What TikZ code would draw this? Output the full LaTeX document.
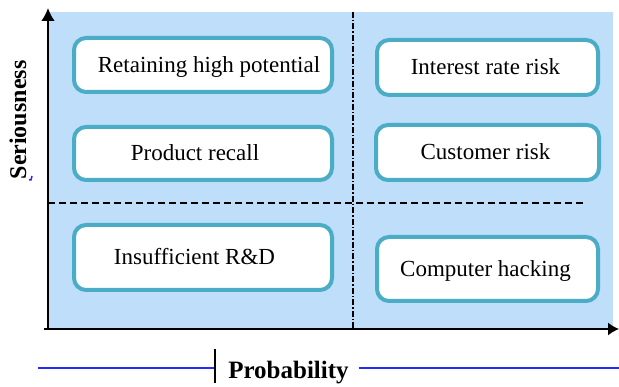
\documentclass[tikz,border=0pt]{standalone}
\usepackage{fontspec}
\setmainfont{Liberation Serif}
\usetikzlibrary{positioning, arrows.meta}

\definecolor{quadfill}{RGB}{190,222,250}
\definecolor{boxedge}{RGB}{75,172,198}
\definecolor{scaleblue}{RGB}{40,40,250}

\begin{document}
\begin{tikzpicture}[x=1pt, y=-1pt]
  \newcommand\boxtextsize{\fontsize{23}{23}\selectfont}
  \newcommand\axistextsize{\fontsize{24}{24}\selectfont\bfseries}
  \newcommand\boxedgewidth{4}
  \newcommand\quadright{613}
  \newcommand\quadtop{12}
  \newcommand\quadsplitx{353}
  \newcommand\quadsplity{203}

  \tikzset{riskbox/.style={draw=boxedge, fill=white, line width=\boxedgewidth pt, rounded corners=12pt, inner sep=0pt}}
  \tikzset{risktext/.style={font=\boxtextsize, inner sep=0pt, text height=15pt, text depth=0pt}}
  \tikzset{axislbl/.style={font=\axistextsize, inner sep=0pt, text height=16pt, text depth=0pt}}
  \tikzset{axis/.style={-{Latex[length=13pt, width=14pt]}, line width=2.5pt}}
  \tikzset{vsplit/.style={line width=1.2pt, dash pattern=on 6pt off 2pt on 1.5pt off 2pt}}
  \tikzset{hsplit/.style={line width=1.2pt, dash pattern=on 7pt off 4pt}}
  \tikzset{scaleline/.style={draw=scaleblue, line width=1.5pt}}

  \useasboundingbox (0,0) rectangle (619,387);

  % quadrant area
  \coordinate (origin) at (48,329);
  \fill[quadfill] (origin) rectangle (\quadright,\quadtop);
  \draw[vsplit] (\quadsplitx,\quadtop) -- (\quadsplitx,329);
  \draw[hsplit] (48,\quadsplity) -- (583,\quadsplity);

  % risk boxes
  \foreach \name/\cx/\cy/\w/\h/\dx/\txt in {
      hipot/203/65/262/58/6/Retaining high potential,
      recall/203/153.5/262/57/-8/Product recall,
      rnd/203/257.5/262/69/-8.5/Insufficient R\&D,
      interest/487.5/67.5/225/59/-2/Interest rate risk,
      customer/487.5/152.5/227/59/-2/Customer risk,
      hacking/487.5/269/225/68/-2/Computer hacking}{
    \node[riskbox, minimum width={(\w-\boxedgewidth)*1pt}, minimum height={(\h-\boxedgewidth)*1pt}] (\name) at (\cx,\cy) {};
    \node[risktext, xshift=\dx pt] (\name-t) at (\name.center) {\txt};
  }

  % axes
  \coordinate (ytip) at (48,8);
  \coordinate (xtip) at (619,329);
  \coordinate (xthin) at (583,329);
  \draw[axis] (origin) -- (ytip);
  \draw[line width=2.5pt] ([xshift=-4pt]origin) -- (xthin);
  \draw[-{Latex[length=11pt, width=13pt]}, line width=1.5pt] (xthin) -- (xtip);

  \node[axislbl, rotate=90] (seriousness) at (18,120) {Seriousness};
  \draw[scaleblue, line width=1.5pt] (32,176) -- (31,180) -- (29,180);

  % probability scale
  \node[axislbl, font=\fontsize{25}{25}\selectfont\bfseries] (probability) at (288.5,371) {Probability};
  \coordinate (scaletick) at (215,368);
  \coordinate (scaleleft) at (38,368);
  \coordinate (scaleright) at (619,368);
  \draw[scaleline] (scaleleft) -- (scaletick);
  \draw[line width=1.2pt] ([yshift=-15pt]scaletick) -- ([yshift=19pt]scaletick);
  \draw[scaleline] ([xshift=10pt]probability.east |- scaletick) -- (scaleright);
\end{tikzpicture}
\end{document}
